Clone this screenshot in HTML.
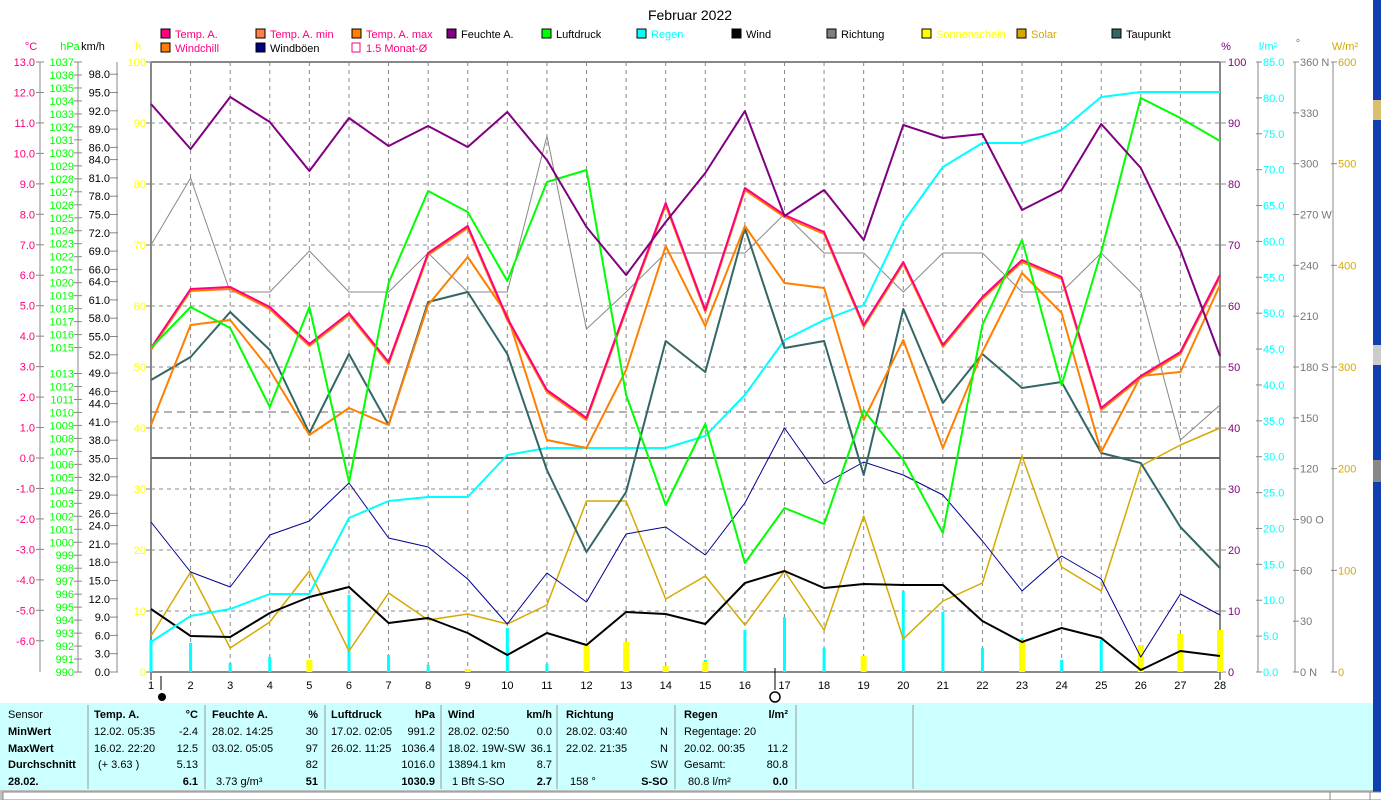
<!DOCTYPE html>
<html><head><meta charset="utf-8"><style>
body{margin:0;background:#fff;width:1381px;height:800px;overflow:hidden;font-family:"Liberation Sans",sans-serif}
svg{position:absolute;left:0;top:0}
</style></head><body>
<svg id="s" width="1381" height="800" xmlns="http://www.w3.org/2000/svg" font-family="Liberation Sans, sans-serif" font-size="11"></svg>
<script>
const S=document.getElementById('s');let h='';
const X=d=>151+(d-1)*(1069/27);
function T(x,y,t,c,a,fs,w){h+=`<text x="${x}" y="${y}" fill="${c||'#000'}" text-anchor="${a||'start'}" font-size="${fs||11}" ${w?'font-weight="bold"':''}>${t}</text>`}
function L(x1,y1,x2,y2,c,w,da){h+=`<line x1="${x1}" y1="${y1}" x2="${x2}" y2="${y2}" stroke="${c}" stroke-width="${w||1}" ${da?`stroke-dasharray="${da}"`:''}/>`}
function P(a,c,w){h+=`<polyline fill="none" stroke="${c}" stroke-width="${w||1.5}" stroke-linejoin="round" points="${a.map((y,i)=>X(i+1).toFixed(1)+','+y).join(' ')}"/>`}
T(690,20,'Februar 2022','#000','middle',14);
for(let i=1;i<10;i++){L(151,62+i*61,1220,62+i*61,'#888',1,'4,4');}
for(let d=2;d<28;d++){L(X(d),62,X(d),672,'#888',1,'4,4');}
L(151,62,1220,62,'#888',2);L(151,62,151,680,'#888',2);L(1220,62,1220,680,'#888',2);
L(151,672,1220,672,'#888',2);
L(151,458,1220,458,'#666',2);L(151,412,1220,412,'#666',1,'8,5');
L(40,62,40,672,'#888');L(78,62,78,672,'#888');L(117,62,117,672,'#888');
for(let v=13;v>=-6;v--){let y=458-v*30.46;T(35,y+4,v.toFixed(1),'#ff0080','end');L(36,y,44,y,'#888');}
for(let v=1037;v>=990;v--){if(v==1014)continue;let y=62+(1037-v)*12.98;T(74,y+4,v,'#00ff00','end');L(74,y,82,y,'#888');}
[0,3,6,9,12,15,18,21,24,26,29,32,35,38,41,44,46,49,52,55,58,61,64,66,69,72,75,78,81,84,86,89,92,95,98].forEach(val=>{let y=672-val*6.1;T(110,y+4,val.toFixed(1),'#000','end');L(110,y,118,y,'#888');});
for(let v=0;v<=100;v+=10){let y=672-v*6.1;T(146,y+4,v,'#ffff00','end');L(146,y,151,y,'#888');}
T(31,50,'°C','#ff0080','middle');T(70,50,'hPa','#00ff00','middle');T(93,50,'km/h','#000','middle');T(138,50,'h','#ffff00','middle');
L(1258,62,1258,672,'#888');L(1295,62,1295,672,'#888');L(1333,62,1333,672,'#888');
for(let v=0;v<=100;v+=10){let y=672-v*6.1;T(1228,y+4,v,'#800080');L(1220,y,1226,y,'#888');}
for(let v=0;v<=85;v+=5){let y=672-v*610/85;T(1263,y+4,v.toFixed(1),'#00ffff');L(1256,y,1262,y,'#888');}
const dl={360:'360 N',270:'270 W',180:'180 S',90:'90 O',0:'0 N'};
for(let v=0;v<=360;v+=30){let y=672-v*610/360;T(1300,y+4,dl[v]||v,'#777');L(1293,y,1299,y,'#888');}
for(let v=0;v<=600;v+=100){let y=672-v*610/600;T(1338,y+4,v,'#d4aa00');L(1331,y,1337,y,'#888');}
T(1226,50,'%','#800080','middle');T(1268,50,'l/m²','#00ffff','middle');T(1298,47,'°','#777','middle');T(1345,50,'W/m²','#d4aa00','middle');
h+=`<rect x="1373" y="0" width="8" height="800" fill="#1040b0"/>`;
h+=`<rect x="1373" y="100" width="8" height="20" fill="#d8c070"/><rect x="1373" y="345" width="8" height="20" fill="#ccc"/><rect x="1373" y="460" width="8" height="22" fill="#888"/>`;
const lg=[[161,38,'Temp. A.','#ff0080','#ff0080'],[256,38,'Temp. A. min','#ff8040','#ff0080'],[352,38,'Temp. A. max','#ff8000','#ff0080'],[447,38,'Feuchte A.','#800080','#000'],[542,38,'Luftdruck','#00ff00','#000'],[637,38,'Regen','#00ffff','#00ffff'],[732,38,'Wind','#000','#000'],[827,38,'Richtung','#808080','#000'],[922,38,'Sonnenschein','#ffff00','#ffff00'],[1017,38,'Solar','#d4aa00','#d4aa00'],[1112,38,'Taupunkt','#336666','#000'],[161,52,'Windchill','#ff8000','#ff0080'],[256,52,'Windböen','#000080','#000']];
lg.forEach(a=>{h+=`<rect x="${a[0]}" y="${a[1]-9}" width="9" height="9" fill="${a[3]}" stroke="#000"/>`;T(a[0]+14,a[1],a[2],a[4]);});
h+=`<rect x="352" y="43" width="8" height="9" fill="none" stroke="#ff0080"/>`;T(366,52,'1.5 Monat-Ø','#ff0080');
const rain={1:640,2:643,3:663,4:657,6:595,7:655,8:665,10:628,11:664,15:660,16:630,17:617,18:648,19:657,20:591,21:612,22:648,23:638,24:660,25:640,26:650,27:665};
for(let d in rain)h+=`<rect x="${X(+d)-1.5}" y="${rain[d]}" width="3" height="${672-rain[d]}" fill="#00ffff"/>`;
const sun={5:660,9:669,12:643,13:642,14:666,15:662,19:656,23:640,26:645,27:634,28:630};
for(let d in sun)h+=`<rect x="${X(+d)-3}" y="${sun[d]}" width="6" height="${672-sun[d]}" fill="#ffff00"/>`;
P([636,572,648,622,571,651,593,620,614,624,605,501,501,599,576,625,571,630,516,639,601,583,456,567,591,466,445,428],'#d4aa00',1.5);
P([245,178,292,292,251,292,292,253,292,292,136,329,292,253,253,253,214,253,253,292,253,253,292,292,253,292,440,405],'#888',1);
P([522,572,587,535,521,483,538,547,579,624,573,602,534,527,555,503,428,484,462,475,495,541,591,556,579,657,594,615],'#000090',1);
P([609,636,637,613,597,587,623,618,633,655,633,645,612,614,624,583,571,588,584,585,585,621,642,628,638,670,651,656],'#000',2);
P([642,616,609,594,594,518,501,497,497,455,448,448,448,448,436,395,340,320,305,222,167,143,143,130,97,92,92,92],'#00ffff',2);
P([380,357,312,350,433,354,425,302,292,354,470,552,492,341,372,228,348,341,475,309,403,354,388,382,453,463,527,568],'#336666',2);
P([425,325,320,370,435,408,425,305,257,315,440,448,370,246,326,226,283,288,420,340,448,352,273,313,452,376,372,285],'#ff8000',2);
P([350,291,289,309,346,315,364,255,228,320,392,420,311,205,312,190,217,234,327,264,347,299,262,279,410,378,354,277],'#ff8000',2);
P([348,289,287,307,344,313,362,253,226,318,390,418,309,203,310,188,215,232,325,262,345,297,260,277,408,376,352,275],'#ff0080',2);
P([348,307,328,407,307,482,283,191,212,281,182,170,395,505,424,563,508,524,410,460,533,325,240,385,252,98,118,141],'#00ff00',2);
P([104,149,97,122,171,118,146,126,147,112,160,227,275,222,173,111,216,190,240,125,138,134,210,190,124,168,250,356],'#800080',2);
for(let d=1;d<=28;d++)T(X(d),689,d,'#000','middle');
L(161,676,161,690,'#000');h+=`<circle cx="162" cy="697" r="4" fill="#000"/>`;
L(775,668,775,690,'#000');h+=`<circle cx="775" cy="697" r="5" fill="none" stroke="#000" stroke-width="1.5"/>`;
h+=`<rect x="0" y="703" width="1373" height="88" fill="#ccffff"/>`;
h+=`<rect x="0" y="790" width="1373" height="10" fill="#c0c0c0"/><rect x="3" y="792" width="1416" height="8" fill="#fff" stroke="#888"/><rect x="1330" y="792" width="40" height="8" fill="#fff" stroke="#888"/>`;
[88,205,325,441,557,675,796,913].forEach(x=>L(x,705,x,789,'#999'));
const ry=[718,735,752,768,785];
const t=(x,i,s,a,b)=>T(x,ry[i],s,'#000',a||'start',11,b);
['Sensor','MinWert','MaxWert','Durchschnitt','28.02.'].forEach((s,i)=>t(8,i,s,'start',i>0));
t(94,0,'Temp. A.','start',1);t(198,0,'°C','end',1);
t(94,1,'12.02.  05:35');t(198,1,'-2.4','end');t(94,2,'16.02.  22:20');t(198,2,'12.5','end');t(98,3,'(+ 3.63 )');t(198,3,'5.13','end');t(198,4,'6.1','end',1);
t(212,0,'Feuchte A.','start',1);t(318,0,'%','end',1);
t(212,1,'28.02.  14:25');t(318,1,'30','end');t(212,2,'03.02.  05:05');t(318,2,'97','end');t(318,3,'82','end');t(216,4,'3.73 g/m³');t(318,4,'51','end',1);
t(331,0,'Luftdruck','start',1);t(435,0,'hPa','end',1);
t(331,1,'17.02.  02:05');t(435,1,'991.2','end');t(331,2,'26.02.  11:25');t(435,2,'1036.4','end');t(435,3,'1016.0','end');t(435,4,'1030.9','end',1);
t(448,0,'Wind','start',1);t(552,0,'km/h','end',1);
t(448,1,'28.02.  02:50');t(552,1,'0.0','end');t(448,2,'18.02.  19W-SW');t(552,2,'36.1','end');t(448,3,'13894.1 km');t(552,3,'8.7','end');t(452,4,'1 Bft S-SO');t(552,4,'2.7','end',1);
t(566,0,'Richtung','start',1);t(668,1,'N','end');t(566,1,'28.02.  03:40');t(566,2,'22.02.  21:35');t(668,2,'N','end');t(668,3,'SW','end');t(570,4,'158 °');t(668,4,'S-SO','end',1);
t(684,0,'Regen','start',1);t(788,0,'l/m²','end',1);
t(684,1,'Regentage: 20');t(684,2,'20.02.  00:35');t(788,2,'11.2','end');t(684,3,'Gesamt:');t(788,3,'80.8','end');t(688,4,'80.8 l/m²');t(788,4,'0.0','end',1);
S.innerHTML=h;
</script>
</body></html>
